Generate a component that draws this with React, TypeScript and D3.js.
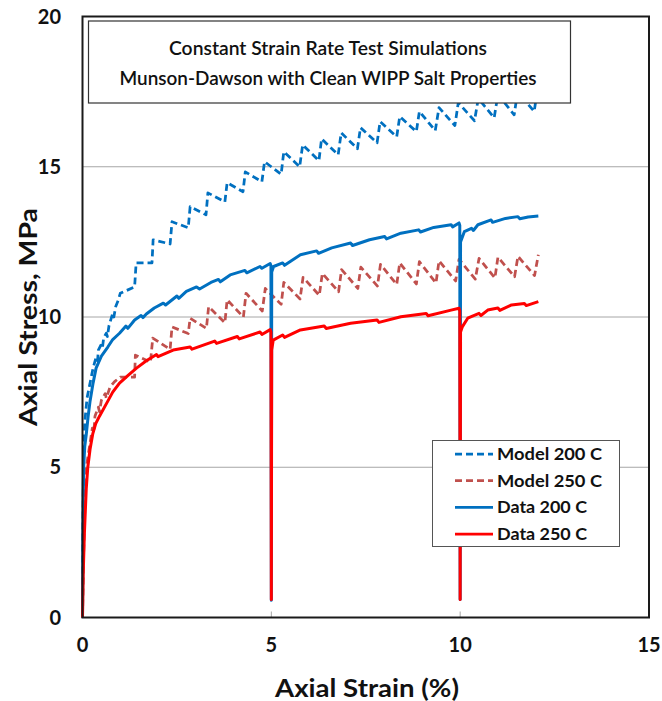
import React from "react";
import * as d3 from "d3";

const xTicks = [0, 5, 10, 15];
const yTicks = [0, 5, 10, 15, 20];
const gridValues = [5, 10, 15];

const titleLines = [
  "Constant Strain Rate Test Simulations",
  "Munson-Dawson with Clean WIPP Salt Properties",
];

const seriesNames = ["Model 200 C", "Model 250 C", "Data 200 C", "Data 250 C"];

const model200: [number, number][] = [
  [0, 0], [0.01, 3.0], [0.03, 5.5], [0.06, 6.5], [0.12, 7.3], [0.2, 7.8], [0.28, 8.3],
  [0.36, 8.66], [0.4, 8.55], [0.42, 8.9], [0.5, 9.1], [0.53, 9.0], [0.56, 9.3], [0.63, 9.46],
  [0.66, 9.35], [0.7, 9.7], [0.8, 10.12], [0.83, 10.0], [0.88, 10.35], [0.95, 10.57],
  [1.0, 10.79], [1.38, 11.0], [1.42, 11.8], [1.84, 11.8],
  [1.87, 12.57], [2.32, 12.43], [2.37, 13.17], [2.8, 12.97], [2.85, 13.67], [3.27, 13.4],
  [3.32, 14.13], [3.77, 13.83], [3.83, 14.47], [4.25, 14.17], [4.31, 14.83], [4.75, 14.5],
  [4.82, 15.17], [5.26, 14.75], [5.33, 15.5], [5.75, 15.0], [5.83, 15.73], [6.26, 15.2],
  [6.33, 15.93], [6.77, 15.4], [6.85, 16.13], [7.28, 15.6], [7.36, 16.3], [7.8, 15.8],
  [7.88, 16.5], [8.32, 16.0], [8.4, 16.67], [8.84, 16.17], [8.92, 16.84], [9.34, 16.2],
  [9.44, 16.97], [9.86, 16.37], [9.95, 17.13], [10.38, 16.53], [10.48, 17.27], [10.9, 16.63],
  [11.0, 17.4], [11.43, 16.73], [11.52, 17.48], [11.96, 16.84], [12.05, 17.6],
];

const model250: [number, number][] = [
  [0, 0], [0.02, 1.5], [0.05, 3.2], [0.1, 5.0], [0.2, 5.8], [0.26, 6.3], [0.3, 6.15],
  [0.33, 6.7], [0.42, 7.0], [0.45, 6.85], [0.5, 7.23], [0.6, 7.45], [0.63, 7.3], [0.73, 7.67],
  [0.85, 7.85], [0.95, 7.95],
  [1.0, 8.0], [1.38, 8.0], [1.4, 8.73], [1.8, 8.5], [1.86, 9.3], [2.32, 8.92], [2.37, 9.67],
  [2.8, 9.45], [2.85, 9.96], [3.28, 9.62], [3.34, 10.34], [3.77, 9.81], [3.83, 10.57],
  [4.26, 10.0], [4.33, 10.79], [4.76, 10.2], [4.84, 10.95], [5.26, 10.42], [5.33, 11.15],
  [5.76, 10.6], [5.84, 11.32], [6.27, 10.72], [6.35, 11.45], [6.78, 10.84], [6.86, 11.58],
  [7.29, 10.95], [7.37, 11.66], [7.81, 11.03], [7.89, 11.75], [8.32, 11.08], [8.4, 11.8],
  [8.84, 11.1], [8.92, 11.84], [9.36, 11.13], [9.44, 11.87], [9.88, 11.2], [9.97, 11.92],
  [10.4, 11.26], [10.5, 11.95], [10.92, 11.3], [11.0, 11.99], [11.44, 11.34], [11.53, 12.02],
  [11.97, 11.38], [12.07, 12.07],
];

const data200: [number, number][] = [
  [0, 0], [0.01, 2.5], [0.02, 4.0], [0.03, 5.0], [0.06, 5.7], [0.1, 6.1], [0.15, 6.7],
  [0.2, 7.2], [0.28, 7.8], [0.36, 8.3], [0.5, 8.7], [0.67, 9.0], [0.8, 9.25], [0.98, 9.46],
  [1.15, 9.7], [1.2, 9.62], [1.38, 9.9], [1.55, 10.05], [1.6, 9.98], [1.69, 10.1], [1.9, 10.3],
  [2.14, 10.46], [2.2, 10.4], [2.5, 10.7], [2.55, 10.62], [2.75, 10.85], [3.02, 11.0],
  [3.1, 10.93], [3.4, 11.15], [3.6, 11.25], [3.65, 11.17], [3.91, 11.4], [4.3, 11.55],
  [4.35, 11.47], [4.7, 11.68], [4.75, 11.62], [4.97, 11.78], [4.99, 11.7], [5.0, 0.57],
  [5.01, 11.5], [5.06, 11.68], [5.3, 11.8], [5.35, 11.72], [5.77, 12.07], [6.2, 12.2],
  [6.25, 12.12], [6.6, 12.3], [7.1, 12.46], [7.15, 12.38], [7.6, 12.57], [8.0, 12.68],
  [8.05, 12.6], [8.43, 12.79], [8.9, 12.9], [8.95, 12.83], [9.3, 12.98], [9.76, 13.07],
  [9.8, 13.0], [9.97, 13.13], [9.99, 13.05], [10.0, 0.6], [10.01, 12.5], [10.11, 12.84],
  [10.3, 12.95], [10.35, 12.88], [10.47, 13.07], [10.82, 13.23], [10.86, 13.15], [11.2, 13.28],
  [11.53, 13.34], [11.58, 13.27], [11.8, 13.33], [12.07, 13.36],
];

const data250: [number, number][] = [
  [0, 0], [0.02, 1.5], [0.05, 2.8], [0.1, 4.3], [0.14, 5.0], [0.2, 5.6], [0.27, 6.1],
  [0.35, 6.45], [0.45, 6.7], [0.67, 7.2], [0.8, 7.5], [0.98, 7.8], [1.2, 8.05], [1.43, 8.3],
  [1.7, 8.55], [1.96, 8.75], [2.0, 8.68], [2.4, 8.9], [2.85, 9.0], [2.9, 8.93], [3.5, 9.2],
  [3.55, 9.12], [4.1, 9.35], [4.15, 9.27], [4.7, 9.5], [4.75, 9.42], [4.97, 9.58],
  [4.99, 9.5], [5.0, 0.6], [5.01, 8.9], [5.05, 9.23], [5.3, 9.4], [5.35, 9.32], [5.77, 9.57],
  [6.4, 9.7], [6.45, 9.62], [7.1, 9.79], [7.8, 9.9], [7.85, 9.82], [8.43, 10.01], [9.1, 10.12],
  [9.15, 10.04], [9.76, 10.23], [9.97, 10.29], [9.99, 10.2], [10.0, 0.6], [10.01, 9.5],
  [10.06, 9.68], [10.2, 9.96], [10.5, 10.12], [10.55, 10.05], [10.73, 10.23], [11.0, 10.3],
  [11.05, 10.22], [11.36, 10.4], [11.7, 10.45], [11.75, 10.38], [12.07, 10.51],
];

const seriesData = [model200, model250, data200, data250];
const seriesColors = ["#0070C0", "#C0504D", "#0070C0", "#FF0000"];
const seriesDash = ["7,4", "7,4", null, null];
const seriesWidth = [2.75, 2.75, 3, 3];
const legendTextLen = [105, 105, 90, 90];

export default function App() {
  const W = 662;
  const H = 701;
  const x = d3.scaleLinear().domain([0, 15]).range([82.5, 649]);
  const y = d3.scaleLinear().domain([0, 20]).range([617.5, 16.5]);
  const line = d3
    .line<[number, number]>()
    .x((d) => x(d[0]))
    .y((d) => y(d[1]));
  const font = "Lato, 'Open Sans', sans-serif";

  return (
    <svg
      width={W}
      height={H}
      style={{ position: "absolute", left: 0, top: 0, background: "#fff" }}
      fontFamily={font}
    >
      <rect x={0} y={0} width={W} height={H} fill="#fff" />
      {gridValues.map((v) => (
        <line key={v} x1={x(0)} x2={x(15)} y1={y(v)} y2={y(v)} stroke="#A6A6A6" strokeWidth={1} />
      ))}
      {[5, 10].map((v) => (
        <line key={"t" + v} x1={x(v)} x2={x(v)} y1={y(0)} y2={y(0) - 6} stroke="#A6A6A6" strokeWidth={1} />
      ))}
      {seriesData.map((d, i) => (
        <path
          key={i}
          d={line(d) || ""}
          fill="none"
          stroke={seriesColors[i]}
          strokeWidth={seriesWidth[i]}
          strokeDasharray={seriesDash[i] || undefined}
          strokeLinejoin="round"
        />
      ))}
      <rect
        x={x(0)}
        y={y(20)}
        width={x(15) - x(0)}
        height={y(0) - y(20)}
        fill="none"
        stroke="#1a1a1a"
        strokeWidth={2}
      />
      {/* title box */}
      <rect x={88.5} y={21} width={482} height={82} fill="#fff" stroke="#333" strokeWidth={1.2} />
      {titleLines.map((t, i) => (
        <text
          key={t}
          x={328}
          y={55 + i * 29.5}
          textAnchor="middle"
          fontSize={20}
          fontWeight={600}
          fill="#111"
          textLength={i === 0 ? 318 : 417}
          lengthAdjust="spacingAndGlyphs"
        >
          {t}
        </text>
      ))}
      {/* legend */}
      <rect x={432.5} y={440.5} width={187} height={106} fill="#fff" stroke="#555" strokeWidth={1} />
      {seriesNames.map((n, i) => {
        const ly = 454 + i * 26.7;
        return (
          <g key={n}>
            <line
              x1={455}
              x2={493}
              y1={ly}
              y2={ly}
              stroke={seriesColors[i]}
              strokeWidth={2.75}
              strokeDasharray={seriesDash[i] || undefined}
            />
            <text
              x={497}
              y={ly + 6}
              fontSize={17}
              fontWeight={700}
              fill="#111"
              textLength={legendTextLen[i]}
              lengthAdjust="spacingAndGlyphs"
            >
              {n}
            </text>
          </g>
        );
      })}
      {/* tick labels */}
      {yTicks.map((v) => (
        <text key={"y" + v} x={61} y={y(v) + 7} textAnchor="end" fontSize={20} fontWeight={700} fill="#111">
          {v}
        </text>
      ))}
      {xTicks.map((v) => (
        <text key={"x" + v} x={x(v)} y={652} textAnchor="middle" fontSize={20} fontWeight={700} fill="#111">
          {v}
        </text>
      ))}
      <text
        x={367}
        y={697}
        textAnchor="middle"
        fontSize={24}
        fontWeight={700}
        fill="#111"
        textLength={184}
        lengthAdjust="spacingAndGlyphs"
      >
        Axial Strain (%)
      </text>
      <text
        transform={`translate(37, ${y(10)}) rotate(-90)`}
        textAnchor="middle"
        fontSize={24}
        fontWeight={700}
        fill="#111"
        textLength={218}
        lengthAdjust="spacingAndGlyphs"
      >
        Axial Stress, MPa
      </text>
    </svg>
  );
}
